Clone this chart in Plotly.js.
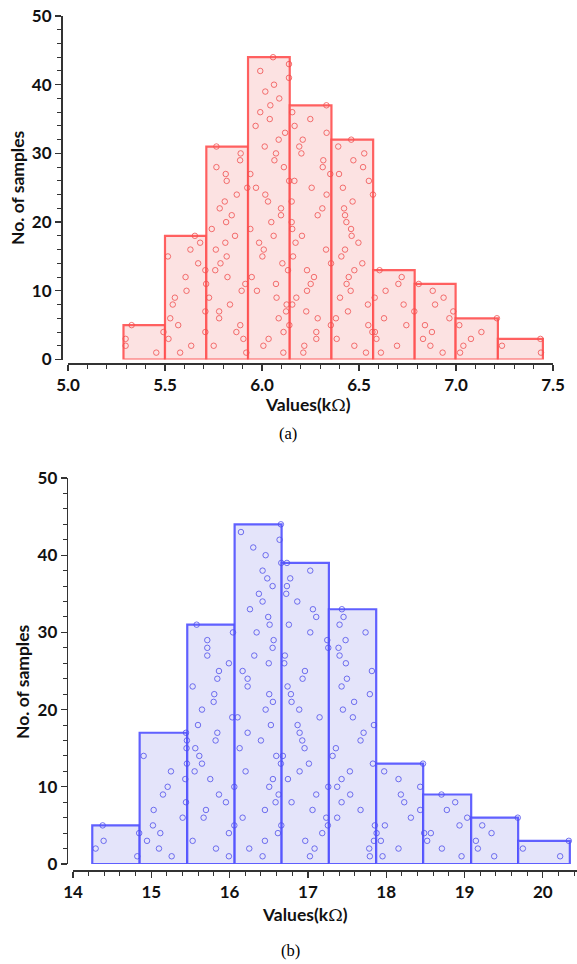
<!DOCTYPE html>
<html>
<head>
<meta charset="utf-8">
<script src="https://cdn.plot.ly/plotly-3.0.1.min.js"></script>
<style>
  html, body { margin: 0; padding: 0; background: #fff; }
  #chart { width: 577px; height: 964px; }
</style>
</head>
<body>
<div id="chart"></div>
<script>
// ---------- Data: chart (a) ----------
const edgesA  = [5.286, 5.500, 5.713, 5.928, 6.143, 6.358, 6.573, 6.787, 6.998, 7.216, 7.448];
const countsA = [5, 18, 31, 44, 37, 32, 13, 11, 6, 3];
// sample points (x = value, y = level in the bar)
const ptsAx = [
  5.455, 5.297, 5.297, 5.492, 5.328,
  5.578, 5.635, 5.518, 5.708, 5.568, 5.527, 5.708, 5.540, 5.551, 5.611, 5.712, 5.606, 5.708, 5.671, 5.515, 5.631, 5.681, 5.654,
  5.919, 5.751, 5.904, 5.868, 5.888, 5.779, 5.779, 5.835, 5.727, 5.895, 5.914, 5.822, 5.759, 5.786, 5.818, 5.762, 5.811, 5.861, 5.741, 5.815, 5.844, 5.782, 5.808, 5.870, 5.924, 5.818, 5.813, 5.765, 5.887, 5.890, 5.765,
  6.110, 6.007, 6.034, 6.111, 6.141, 6.086, 6.124, 6.127, 6.075, 5.974, 6.072, 5.947, 6.134, 6.105, 6.002, 6.009, 5.985, 6.060, 5.940, 6.048, 6.098, 6.098, 6.031, 6.017, 5.969, 6.140, 5.940, 6.113, 6.064, 6.072, 6.014, 6.086, 6.119, 5.967, 6.040, 5.991, 6.043, 6.089, 6.017, 6.062, 6.139, 5.991, 6.139, 6.057,
  6.213, 6.218, 6.280, 6.280, 6.355, 6.287, 6.228, 6.156, 6.177, 6.232, 6.251, 6.268, 6.232, 6.356, 6.160, 6.330, 6.173, 6.206, 6.156, 6.153, 6.287, 6.311, 6.153, 6.333, 6.256, 6.167, 6.352, 6.313, 6.316, 6.203, 6.192, 6.210, 6.333, 6.168, 6.249, 6.156, 6.332,
  6.536, 6.476, 6.385, 6.569, 6.548, 6.381, 6.443, 6.546, 6.402, 6.457, 6.436, 6.447, 6.476, 6.517, 6.409, 6.428, 6.497, 6.462, 6.459, 6.435, 6.428, 6.423, 6.467, 6.572, 6.417, 6.551, 6.397, 6.521, 6.471, 6.527, 6.393, 6.460,
  6.613, 6.696, 6.590, 6.582, 6.744, 6.629, 6.785, 6.730, 6.581, 6.637, 6.703, 6.720, 6.606,
  6.931, 6.868, 6.830, 6.876, 6.840, 6.966, 6.986, 6.892, 6.936, 6.880, 6.808,
  7.021, 7.038, 7.077, 7.131, 7.017, 7.211,
  7.438, 7.237, 7.435
];
const ptsAy = [
  1,2,3,4,5,
  1,2,3,4,5,6,7,8,9,10,11,12,13,14,15,16,17,18,
  1,2,3,4,5,6,7,8,9,10,11,12,13,14,15,16,17,18,19,20,21,22,23,24,25,26,27,28,29,30,31,
  1,2,3,4,5,6,7,8,9,10,11,12,13,14,15,16,17,18,19,20,21,22,23,24,25,26,27,28,29,30,31,32,33,34,35,36,37,38,39,40,41,42,43,44,
  1,2,3,4,5,6,7,8,9,10,11,12,13,14,15,16,17,18,19,20,21,22,23,24,25,26,27,28,29,30,31,32,33,34,35,36,37,
  1,2,3,4,5,6,7,8,9,10,11,12,13,14,15,16,17,18,19,20,21,22,23,24,25,26,27,28,29,30,31,32,
  1,2,3,4,5,6,7,8,9,10,11,12,13,
  1,2,3,4,5,6,7,8,9,10,11,
  1,2,3,4,5,6,
  1,2,3
];

// ---------- Data: chart (b) ----------
const edgesB  = [14.246, 14.851, 15.459, 16.064, 16.664, 17.268, 17.872, 18.472, 19.085, 19.685, 20.345];
const countsB = [5, 17, 31, 44, 39, 33, 13, 9, 6, 3];
const ptsBx = [
  14.821, 14.289, 14.391, 14.845, 14.379,
  15.260, 15.098, 14.945, 15.115, 15.021, 15.400, 15.030, 15.443, 15.149, 15.209, 15.434, 15.251, 15.455, 14.902, 15.450, 15.455, 15.443,
  15.991, 15.826, 15.528, 15.991, 16.060, 15.668, 15.698, 15.953, 15.864, 16.060, 15.753, 15.553, 15.647, 15.613, 15.562, 15.821, 15.843, 15.596, 16.034, 15.647, 15.796, 15.804, 15.528, 15.843, 15.864, 15.991, 15.715, 15.715, 15.715, 16.043, 15.579,
  16.421, 16.251, 16.451, 16.617, 16.660, 16.166, 16.451, 16.587, 16.626, 16.506, 16.553, 16.204, 16.655, 16.596, 16.128, 16.400, 16.230, 16.527, 16.102, 16.460, 16.553, 16.506, 16.230, 16.230, 16.166, 16.500, 16.315, 16.549, 16.562, 16.345, 16.511, 16.493, 16.260, 16.421, 16.374, 16.549, 16.481, 16.421, 16.660, 16.460, 16.302, 16.638, 16.145, 16.655,
  17.026, 17.085, 16.966, 17.183, 17.255, 17.234, 17.059, 16.791, 17.106, 17.260, 16.745, 16.894, 17.013, 16.680, 16.957, 16.928, 16.894, 16.868, 17.149, 16.889, 16.791, 16.783, 16.740, 16.932, 16.962, 16.698, 16.706, 17.260, 17.247, 17.030, 16.757, 17.106, 17.064, 16.864, 16.723, 16.732, 16.774, 17.030, 16.732,
  17.791, 17.783, 17.843, 17.877, 17.855, 17.374, 17.672, 17.430, 17.540, 17.374, 17.430, 17.536, 17.830, 17.315, 17.357, 17.672, 17.711, 17.843, 17.574, 17.447, 17.590, 17.791, 17.430, 17.498, 17.817, 17.485, 17.404, 17.391, 17.481, 17.736, 17.404, 17.455, 17.434,
  17.953, 18.157, 17.932, 18.485, 17.983, 18.315, 18.434, 18.230, 18.187, 18.434, 18.157, 17.974, 18.470,
  18.962, 18.711, 18.523, 18.570, 18.936, 19.034, 18.774, 18.881, 18.706,
  19.379, 19.170, 19.145, 19.345, 19.226, 19.680,
  20.221, 19.745, 20.332
];
const ptsBy = [
  1,2,3,4,5,
  1,2,3,4,5,6,7,8,9,10,11,12,13,14,15,16,17,
  1,2,3,4,5,6,7,8,9,10,11,12,13,14,15,16,17,18,19,20,21,22,23,24,25,26,27,28,29,30,31,
  1,2,3,4,5,6,7,8,9,10,11,12,13,14,15,16,17,18,19,20,21,22,23,24,25,26,27,28,29,30,31,32,33,34,35,36,37,38,39,40,41,42,43,44,
  1,2,3,4,5,6,7,8,9,10,11,12,13,14,15,16,17,18,19,20,21,22,23,24,25,26,27,28,29,30,31,32,33,34,35,36,37,38,39,
  1,2,3,4,5,6,7,8,9,10,11,12,13,14,15,16,17,18,19,20,21,22,23,24,25,26,27,28,29,30,31,32,33,
  1,2,3,4,5,6,7,8,9,10,11,12,13,
  1,2,3,4,5,6,7,8,9,
  1,2,3,4,5,6,
  1,2,3
];

const yTitle = 'No. of samples';
const xTitle = 'Values(k<span style="font-family:\'DejaVu Serif\';font-weight:normal">Ω</span>)';
const labelA = '(a)';
const labelB = '(b)';

// ---------- helpers ----------
function centers(e) { const c = []; for (let i = 0; i < e.length - 1; i++) c.push((e[i] + e[i + 1]) / 2); return c; }
function widths(e)  { const w = []; for (let i = 0; i < e.length - 1; i++) w.push(e[i + 1] - e[i]); return w; }

const W = 577, H = 964;
const px = v => v / W;
const py = v => 1 - v / H;

const tickFont = { family: 'Lato, "Open Sans", sans-serif', size: 17, color: '#111', weight: 'bold' };
const axisCol = '#333';

const traces = [
  { type: 'bar', x: centers(edgesA), y: countsA, width: widths(edgesA), xaxis: 'x', yaxis: 'y',
    marker: { color: 'rgba(252,226,226,1)', line: { color: 'rgba(255,80,80,0.9)', width: 2.2 } }, hoverinfo: 'skip' },
  { type: 'scatter', mode: 'markers', x: ptsAx, y: ptsAy, xaxis: 'x', yaxis: 'y', cliponaxis: false,
    marker: { symbol: 'circle-open', size: 5.5, color: 'rgba(240,80,80,0.8)', line: { width: 1 } } },
  { type: 'bar', x: centers(edgesB), y: countsB, width: widths(edgesB), xaxis: 'x2', yaxis: 'y2',
    marker: { color: 'rgba(228,228,250,1)', line: { color: 'rgba(80,80,255,0.9)', width: 2.2 } }, hoverinfo: 'skip' },
  { type: 'scatter', mode: 'markers', x: ptsBx, y: ptsBy, xaxis: 'x2', yaxis: 'y2', cliponaxis: false,
    marker: { symbol: 'circle-open', size: 5.5, color: 'rgba(80,80,235,0.8)', line: { width: 1 } } }
];

function xAx(domain, range, pos, dtick, minorD, fmt) {
  return { domain, range, anchor: 'free', position: pos, showgrid: false, zeroline: false,
    showline: true, linecolor: axisCol, linewidth: 1.5, ticks: 'outside', ticklen: 6, tickwidth: 1.3, tickcolor: axisCol,
    dtick, tick0: range[0], tickformat: fmt, tickfont: tickFont, automargin: false, fixedrange: true,
    minor: { dtick: minorD, ticks: 'outside', ticklen: 4, tickwidth: 1, tickcolor: axisCol } };
}
function yAx(domain, pos) {
  return { domain, range: [0, 50], anchor: 'free', position: pos, showgrid: false, zeroline: false,
    showline: true, linecolor: axisCol, linewidth: 1.5, ticks: 'outside', ticklen: 6, tickwidth: 1.3, tickcolor: axisCol,
    dtick: 10, tickfont: tickFont, automargin: false, fixedrange: true,
    minor: { dtick: 2, ticks: 'outside', ticklen: 4, tickwidth: 1, tickcolor: axisCol } };
}

const titleFont = { family: 'Lato, "Open Sans", sans-serif', size: 17.5, color: '#111', weight: 'bold' };
const capFont = { family: '"Liberation Serif", "Times New Roman", serif', size: 16.5, color: '#000' };

const layout = {
  width: W, height: H, margin: { l: 0, r: 0, t: 0, b: 0 },
  paper_bgcolor: '#fff', plot_bgcolor: 'rgba(0,0,0,0)', showlegend: false, bargap: 0,
  xaxis:  xAx([px(68), px(553)], [5.0, 7.5], py(363), 0.5, 0.1, '.1f'),
  yaxis:  yAx([py(359.5), py(16)], px(61)),
  xaxis2: xAx([px(73), px(576.5)], [14, 20.43], py(870), 1, 0.2, 'd'),
  yaxis2: yAx([py(864), py(478)], px(66.7)),
  annotations: [
    { text: yTitle, x: px(18), y: py(188), xref: 'paper', yref: 'paper', textangle: -90, showarrow: false, font: titleFont, xanchor: 'center', yanchor: 'middle' },
    { text: xTitle, x: px(308), y: py(404), xref: 'paper', yref: 'paper', showarrow: false, font: titleFont, xanchor: 'center', yanchor: 'middle' },
    { text: labelA, x: px(288), y: py(434), xref: 'paper', yref: 'paper', showarrow: false, font: capFont, xanchor: 'center', yanchor: 'middle' },
    { text: yTitle, x: px(22), y: py(682), xref: 'paper', yref: 'paper', textangle: -90, showarrow: false, font: titleFont, xanchor: 'center', yanchor: 'middle' },
    { text: xTitle, x: px(305), y: py(914), xref: 'paper', yref: 'paper', showarrow: false, font: titleFont, xanchor: 'center', yanchor: 'middle' },
    { text: labelB, x: px(290), y: py(950), xref: 'paper', yref: 'paper', showarrow: false, font: capFont, xanchor: 'center', yanchor: 'middle' }
  ]
};

Plotly.newPlot('chart', traces, layout, { staticPlot: true, displayModeBar: false });
</script>
</body>
</html>
